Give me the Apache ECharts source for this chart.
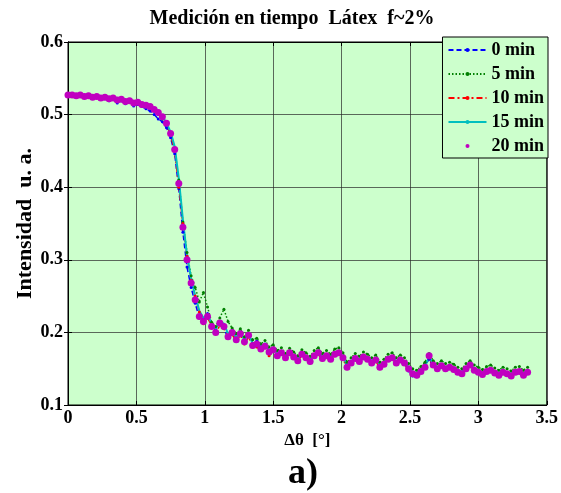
<!DOCTYPE html>
<html>
<head>
<meta charset="utf-8">
<script src="https://cdn.jsdelivr.net/npm/echarts@6/dist/echarts.min.js"></script>
<style>
  html, body { margin: 0; padding: 0; background: #fff; }
  #chart { width: 561px; height: 493px; }
</style>
</head>
<body>
<div id="chart"></div>
<script>
// Δθ [°]
const angles = [
  0, 0.03, 0.06, 0.09, 0.12, 0.15, 0.18, 0.21, 0.24, 0.27,
  0.30, 0.33, 0.36, 0.39, 0.42, 0.45, 0.48, 0.51, 0.54, 0.57,
  0.60, 0.63, 0.66, 0.69, 0.72, 0.75, 0.78, 0.81, 0.84, 0.87,
  0.90, 0.93, 0.96, 0.99, 1.02, 1.05, 1.08, 1.11, 1.14, 1.17,
  1.20, 1.23, 1.26, 1.29, 1.32, 1.35, 1.38, 1.41, 1.44, 1.47,
  1.50, 1.53, 1.56, 1.59, 1.62, 1.65, 1.68, 1.71, 1.74, 1.77,
  1.80, 1.83, 1.86, 1.89, 1.92, 1.95, 1.98, 2.01, 2.04, 2.07,
  2.10, 2.13, 2.16, 2.19, 2.22, 2.25, 2.28, 2.31, 2.34, 2.37,
  2.40, 2.43, 2.46, 2.49, 2.52, 2.55, 2.58, 2.61, 2.64, 2.67,
  2.70, 2.73, 2.76, 2.79, 2.82, 2.85, 2.88, 2.91, 2.94, 2.97,
  3.00, 3.03, 3.06, 3.09, 3.12, 3.15, 3.18, 3.21, 3.24, 3.27,
  3.30, 3.33, 3.36
]

const min0 = [
  0.526, 0.527, 0.525, 0.526, 0.524, 0.525, 0.523, 0.524, 0.521, 0.522,
  0.519, 0.521, 0.516, 0.519, 0.515, 0.517, 0.512, 0.514, 0.511, 0.508,
  0.505, 0.500, 0.494, 0.490, 0.482, 0.468, 0.446, 0.398, 0.338, 0.290,
  0.262, 0.240, 0.220, 0.218, 0.226, 0.210, 0.203, 0.215, 0.206, 0.192,
  0.198, 0.192, 0.200, 0.190, 0.199, 0.185, 0.188, 0.180, 0.184, 0.175,
  0.178, 0.170, 0.174, 0.166, 0.173, 0.167, 0.162, 0.171, 0.166, 0.161,
  0.169, 0.174, 0.165, 0.169, 0.164, 0.171, 0.174, 0.166, 0.153, 0.159,
  0.165, 0.161, 0.167, 0.164, 0.159, 0.163, 0.153, 0.157, 0.164, 0.166,
  0.159, 0.163, 0.157, 0.147, 0.140, 0.139, 0.148, 0.155, 0.163, 0.153,
  0.151, 0.155, 0.151, 0.153, 0.150, 0.147, 0.145, 0.152, 0.158, 0.149,
  0.146, 0.143, 0.147, 0.149, 0.145, 0.142, 0.146, 0.144, 0.141, 0.146,
  0.148, 0.142, 0.147
]

const min5 = [
  0.526, 0.527, 0.526, 0.526, 0.525, 0.525, 0.524, 0.524, 0.523, 0.523,
  0.521, 0.522, 0.519, 0.520, 0.517, 0.518, 0.515, 0.516, 0.513, 0.511,
  0.509, 0.505, 0.500, 0.494, 0.486, 0.473, 0.452, 0.410, 0.352, 0.310,
  0.278, 0.262, 0.242, 0.255, 0.235, 0.214, 0.208, 0.220, 0.232, 0.215,
  0.206, 0.198, 0.205, 0.194, 0.203, 0.190, 0.192, 0.184, 0.189, 0.180,
  0.183, 0.175, 0.179, 0.171, 0.178, 0.173, 0.168, 0.176, 0.172, 0.167,
  0.175, 0.179, 0.171, 0.175, 0.170, 0.177, 0.179, 0.172, 0.159, 0.165,
  0.171, 0.167, 0.173, 0.170, 0.165, 0.169, 0.159, 0.163, 0.170, 0.172,
  0.165, 0.169, 0.165, 0.157, 0.150, 0.148, 0.153, 0.159, 0.171, 0.161,
  0.157, 0.161, 0.157, 0.159, 0.156, 0.152, 0.150, 0.157, 0.161, 0.155,
  0.152, 0.149, 0.153, 0.155, 0.151, 0.148, 0.152, 0.150, 0.147, 0.152,
  0.153, 0.148, 0.152
]

const min10 = [
  0.527, 0.526, 0.526, 0.526, 0.525, 0.525, 0.524, 0.524, 0.523, 0.523,
  0.521, 0.522, 0.519, 0.520, 0.517, 0.518, 0.516, 0.518, 0.512, 0.511,
  0.509, 0.508, 0.502, 0.496, 0.487, 0.472, 0.450, 0.400, 0.350, 0.305,
  0.272, 0.250, 0.228, 0.212, 0.220, 0.210, 0.198, 0.210, 0.205, 0.196,
  0.197, 0.188, 0.196, 0.184, 0.194, 0.180, 0.180, 0.175, 0.179, 0.168,
  0.174, 0.166, 0.170, 0.166, 0.171, 0.164, 0.160, 0.169, 0.163, 0.158,
  0.167, 0.170, 0.162, 0.166, 0.163, 0.168, 0.170, 0.164, 0.150, 0.156,
  0.163, 0.159, 0.165, 0.162, 0.157, 0.161, 0.150, 0.155, 0.162, 0.164,
  0.157, 0.161, 0.157, 0.148, 0.141, 0.140, 0.145, 0.151, 0.165, 0.154,
  0.149, 0.153, 0.149, 0.151, 0.148, 0.144, 0.142, 0.149, 0.154, 0.147,
  0.144, 0.141, 0.145, 0.147, 0.143, 0.140, 0.144, 0.142, 0.139, 0.144,
  0.145, 0.140, 0.144
]

const min15 = [
  0.527, 0.527, 0.526, 0.526, 0.525, 0.525, 0.524, 0.524, 0.523, 0.523,
  0.521, 0.522, 0.520, 0.520, 0.518, 0.518, 0.516, 0.516, 0.514, 0.512,
  0.510, 0.507, 0.503, 0.497, 0.489, 0.476, 0.456, 0.412, 0.355, 0.306,
  0.275, 0.250, 0.230, 0.220, 0.225, 0.212, 0.205, 0.215, 0.212, 0.198,
  0.203, 0.193, 0.200, 0.190, 0.198, 0.185, 0.186, 0.180, 0.183, 0.176,
  0.178, 0.171, 0.174, 0.168, 0.174, 0.168, 0.164, 0.172, 0.167, 0.163,
  0.170, 0.174, 0.167, 0.170, 0.166, 0.172, 0.174, 0.167, 0.155, 0.160,
  0.166, 0.163, 0.168, 0.166, 0.161, 0.164, 0.155, 0.158, 0.165, 0.167,
  0.160, 0.164, 0.160, 0.152, 0.146, 0.144, 0.148, 0.154, 0.166, 0.157,
  0.152, 0.156, 0.152, 0.154, 0.151, 0.147, 0.146, 0.152, 0.156, 0.150,
  0.147, 0.145, 0.148, 0.150, 0.146, 0.144, 0.147, 0.145, 0.143, 0.147,
  0.148, 0.144, 0.147
]

const min20 = [
  0.527, 0.527, 0.526, 0.527, 0.525, 0.526, 0.524, 0.525, 0.523, 0.524,
  0.522, 0.523, 0.520, 0.521, 0.518, 0.519, 0.516, 0.517, 0.514, 0.513,
  0.511, 0.507, 0.503, 0.497, 0.488, 0.474, 0.452, 0.405, 0.345, 0.300,
  0.268, 0.245, 0.222, 0.215, 0.222, 0.208, 0.200, 0.213, 0.208, 0.194,
  0.200, 0.190, 0.198, 0.187, 0.196, 0.182, 0.184, 0.177, 0.181, 0.173,
  0.176, 0.168, 0.172, 0.165, 0.172, 0.166, 0.161, 0.170, 0.165, 0.160,
  0.168, 0.172, 0.164, 0.168, 0.163, 0.170, 0.172, 0.165, 0.152, 0.158,
  0.164, 0.160, 0.166, 0.163, 0.158, 0.162, 0.152, 0.156, 0.163, 0.165,
  0.158, 0.162, 0.158, 0.150, 0.143, 0.141, 0.146, 0.152, 0.168, 0.155,
  0.150, 0.154, 0.150, 0.152, 0.149, 0.145, 0.143, 0.150, 0.155, 0.148,
  0.145, 0.142, 0.146, 0.148, 0.144, 0.141, 0.145, 0.143, 0.140, 0.145,
  0.146, 0.141, 0.145
]

const seriesNames = ['0 min', '5 min', '10 min', '15 min', '20 min']
const xTicks = [0, 3.5, 0.5]   // min, max, interval
const yTicks = [0.1, 0.6, 0.1]

const font = '"Liberation Serif", "Times New Roman", serif'
const chart = echarts.init(document.getElementById('chart'))

const pairs = arr => angles.map((x, i) => [x, arr[i]])

const tickLabel = { fontFamily: font, fontWeight: 'bold', fontSize: 18, color: '#000' }
const boxAxis = {
  type: 'value',
  axisLine: { show: true, lineStyle: { color: '#000', width: 1 } },
  axisTick: { show: true, inside: true, length: 4, lineStyle: { color: '#000' } },
  axisLabel: { show: false },
  splitLine: { show: false }
}

const option = {
  animation: false,
  backgroundColor: '#fff',
  graphic: [
    {
      type: 'text', x: 292, y: 19,
      style: { text: 'Medición en tiempo  Látex  f~2%', font: 'bold 20px ' + font, fill: '#000', textAlign: 'center', textVerticalAlign: 'middle' }
    },
    {
      type: 'text', x: 303, y: 474,
      style: { text: 'a)', font: 'bold 36px ' + font, fill: '#000', textAlign: 'center', textVerticalAlign: 'middle' }
    }
  ],
  grid: {
    left: 68, right: 13, top: 42, bottom: 88,
    show: true, backgroundColor: '#ccffcc', borderColor: '#000', borderWidth: 1
  },
  legend: {
    orient: 'vertical',
    right: 13, top: 37,
    backgroundColor: '#ccffcc',
    borderColor: '#000', borderWidth: 1,
    padding: [4, 4, 3, 5],
    itemGap: 6,
    itemWidth: 38, itemHeight: 5,
    textStyle: { fontFamily: font, fontWeight: 'bold', fontSize: 18, color: '#000' },
    data: seriesNames
  },
  xAxis: [
    {
      type: 'value',
      min: xTicks[0], max: xTicks[1], interval: xTicks[2],
      name: 'Δθ  [°]', nameLocation: 'middle', nameGap: 27,
      nameTextStyle: { fontFamily: font, fontWeight: 'bold', fontSize: 17, color: '#000' },
      axisLine: { show: true, lineStyle: { color: '#000', width: 1 } },
      axisTick: { show: true, inside: true, length: 4, lineStyle: { color: '#000' } },
      axisLabel: Object.assign({ margin: 4 }, tickLabel),
      splitLine: { show: true, lineStyle: { color: 'rgba(40,40,40,0.7)', width: 1 } }
    },
    Object.assign({ position: 'top', min: xTicks[0], max: xTicks[1], interval: xTicks[2] }, boxAxis)
  ],
  yAxis: [
    {
      type: 'value',
      min: yTicks[0], max: yTicks[1], interval: yTicks[2],
      name: 'Intensidad  u. a.', nameLocation: 'middle', nameGap: 32, nameMoveOverlap: false,
      nameTextStyle: { fontFamily: font, fontWeight: 'bold', fontSize: 22, color: '#000' },
      axisLine: { show: true, lineStyle: { color: '#000', width: 1 } },
      axisTick: { show: true, inside: true, length: 4, lineStyle: { color: '#000' } },
      axisLabel: Object.assign({ margin: 5 }, tickLabel),
      splitLine: { show: true, lineStyle: { color: 'rgba(40,40,40,0.7)', width: 1 } }
    },
    Object.assign({ position: 'right', min: yTicks[0], max: yTicks[1], interval: yTicks[2] }, boxAxis)
  ],
  series: [
    {
      name: seriesNames[0], type: 'line', data: pairs(min0),
      symbol: 'circle', symbolSize: 3, itemStyle: { color: '#0000ff' },
      lineStyle: { color: '#0000ff', width: 1.5, type: [5, 3] }
    },
    {
      name: seriesNames[1], type: 'line', data: pairs(min5),
      symbol: 'circle', symbolSize: 3, itemStyle: { color: '#008000' },
      lineStyle: { color: '#008000', width: 1.5, type: [1.5, 2] }
    },
    {
      name: seriesNames[2], type: 'line', data: pairs(min10),
      symbol: 'circle', symbolSize: 3, itemStyle: { color: '#ff0000' },
      lineStyle: { color: '#ff0000', width: 1.5, type: [6, 3, 2, 3] }
    },
    {
      name: seriesNames[3], type: 'line', data: pairs(min15),
      showSymbol: false, symbol: 'none', itemStyle: { color: '#00bfbf' },
      lineStyle: { color: '#00bfbf', width: 2 }
    },
    {
      name: seriesNames[4], type: 'line', data: pairs(min20),
      symbol: 'circle', symbolSize: 7, itemStyle: { color: '#c000c0' },
      lineStyle: { width: 0, opacity: 0 }
    }
  ]
}

chart.setOption(option)
</script>
</body>
</html>
